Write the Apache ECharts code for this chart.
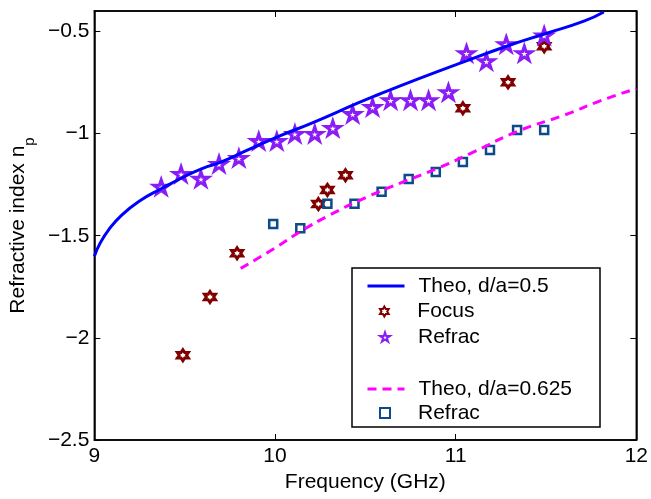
<!DOCTYPE html>
<html>
<head>
<meta charset="utf-8">
<title>Refractive index</title>
<script src="https://cdn.jsdelivr.net/npm/echarts@6/dist/echarts.min.js"></script>
<style>
  html, body { margin: 0; padding: 0; background: #fff; }
  #chart { width: 651px; height: 499px; }
</style>
</head>
<body>
<div id="chart"></div>
<script>
// theory curve, d/a = 0.5
const theo05Freq = [9.0, 9.03, 9.08, 9.15, 9.25, 9.37, 9.5, 9.6, 9.7, 9.85, 10.03, 10.2, 10.46, 10.57, 10.8, 11.01, 11.29, 11.5, 11.71, 11.82]
const theo05Index = [-1.60, -1.54, -1.47, -1.40, -1.33, -1.27, -1.21, -1.17, -1.14, -1.08, -1.01, -0.95, -0.85, -0.81, -0.73, -0.66, -0.57, -0.51, -0.45, -0.405]

// focus measurements
const focusFreq = [9.49, 9.64, 9.79, 10.24, 10.29, 10.39, 11.04, 11.29, 11.49]
const focusIndex = [-2.085, -1.80, -1.586, -1.345, -1.276, -1.204, -0.876, -0.749, -0.573]

// refraction measurements, d/a = 0.5
const refracFreq = [9.37, 9.48, 9.59, 9.69, 9.80, 9.91, 10.01, 10.11, 10.22, 10.32, 10.43, 10.54, 10.64, 10.75, 10.85, 10.96, 11.06, 11.17, 11.28, 11.38, 11.49]
const refracIndex = [-1.261, -1.198, -1.222, -1.149, -1.120, -1.037, -1.037, -1.002, -1.002, -0.973, -0.905, -0.871, -0.837, -0.837, -0.837, -0.798, -0.607, -0.646, -0.563, -0.607, -0.52]

// theory curve, d/a = 0.625
const theo0625Freq = [9.81, 10.0, 10.14, 10.3, 10.51, 10.7, 10.9, 11.1, 11.34, 11.6, 11.8, 12.0]
const theo0625Index = [-1.66, -1.56, -1.48, -1.40, -1.31, -1.24, -1.17, -1.09, -0.99, -0.91, -0.84, -0.78]

// refraction measurements, d/a = 0.625
const refrac2Freq = [9.99, 10.14, 10.29, 10.44, 10.59, 10.74, 10.89, 11.04, 11.19, 11.34, 11.49]
const refrac2Index = [-1.443, -1.464, -1.344, -1.344, -1.285, -1.222, -1.188, -1.139, -1.080, -0.983, -0.983]

const xTicks = [9, 10, 11, 12]
const yTicks = [-2.5, -2, -1.5, -1, -0.5]

const pairs = (xs, ys) => xs.map((x, i) => [x, ys[i]])

const FONT = '"Liberation Sans", Arial, Helvetica, sans-serif'
const PENTAGRAM = 'path://M50 0 L61.23 34.55 L97.55 34.55 L68.16 55.9 L79.39 90.45 L50 69.1 L20.61 90.45 L31.84 55.9 L2.45 34.55 L38.77 34.55 Z'
const HEXAGRAM = 'path://M50 0 L64.43 25 L93.3 25 L78.87 50 L93.3 75 L64.43 75 L50 100 L35.57 75 L6.7 75 L21.13 50 L6.7 25 L35.57 25 Z'

const fmtMinus = v => String(v).replace('-', '\u2212')

const chart = echarts.init(document.getElementById('chart'))

const axisCommon = {
  axisLine: { show: true, lineStyle: { color: '#000', width: 1.5 } },
  axisTick: { show: true, inside: true, length: 6, lineStyle: { color: '#000', width: 1 } },
  splitLine: { show: false }
}

// one legend per row, so line rows and marker rows can have their own icon width
function legendRow(name, top, isLine) {
  const row = {
    orient: 'vertical',
    left: isLine ? 361 : 374,
    top: top,
    itemWidth: isLine ? 37 : 10,
    itemHeight: 10,
    selectedMode: false,
    textStyle: {
      fontFamily: FONT,
      fontSize: 21,
      lineHeight: 21,
      color: '#000',
      padding: [0, 0, 0, isLine ? 9 : 23]
    },
    data: [name]
  }
  if (isLine) {
    row.itemStyle = { opacity: 0 }
    row.lineStyle = { width: 3 }
  }
  return row
}

chart.setOption({
  backgroundColor: '#fff',
  animation: false,
  textStyle: { fontFamily: FONT },
  grid: {
    left: 93,
    right: 11,
    top: 11,
    bottom: 59,
    show: true,
    borderColor: '#000',
    borderWidth: 1.5
  },
  xAxis: [{
    type: 'value',
    min: xTicks[0],
    max: xTicks[xTicks.length - 1],
    interval: 1,
    position: 'bottom',
    name: 'Frequency (GHz)',
    nameLocation: 'middle',
    nameGap: 32,
    nameTextStyle: { fontFamily: FONT, fontSize: 21, color: '#000' },
    axisLabel: { fontFamily: FONT, fontSize: 21, color: '#000', margin: 6 },
    ...axisCommon
  }, {
    type: 'value',
    min: xTicks[0],
    max: xTicks[xTicks.length - 1],
    interval: 1,
    position: 'top',
    axisLabel: { show: false },
    ...axisCommon
  }],
  yAxis: [{
    type: 'value',
    min: yTicks[0],
    max: -0.4,
    interval: 0.5,
    position: 'left',
    name: 'Refractive index n{sub|p}',
    nameLocation: 'middle',
    nameRotate: 90,
    nameGap: 58,
    nameTextStyle: {
      fontFamily: FONT,
      fontSize: 21,
      color: '#000',
      rich: {
        sub: { fontFamily: FONT, fontSize: 15, color: '#000', verticalAlign: 'bottom', padding: [0, 0, -8, 0] }
      }
    },
    axisLabel: {
      fontFamily: FONT,
      fontSize: 21,
      color: '#000',
      margin: 5,
      showMaxLabel: false,
      formatter: fmtMinus
    },
    ...axisCommon
  }, {
    type: 'value',
    min: yTicks[0],
    max: -0.4,
    interval: 0.5,
    position: 'right',
    axisLabel: { show: false },
    ...axisCommon
  }],
  graphic: [{
    type: 'rect',
    z: 3,
    shape: { x: 352, y: 268, width: 248, height: 159 },
    style: { fill: '#fff', stroke: '#000', lineWidth: 1.5 }
  }],
  legend: [
    legendRow('Theo, d/a=0.5', 270.5, true),
    legendRow('Focus', 296, false),
    legendRow('Refrac', 321.5, false),
    legendRow('Theo, d/a=0.625', 373.5, true),
    legendRow('Refrac ', 397.5, false)
  ],
  series: [{
    name: 'Theo, d/a=0.5',
    type: 'line',
    smooth: true,
    symbol: 'none',
    lineStyle: { color: '#0000ff', width: 3 },
    itemStyle: { color: '#0000ff' },
    data: pairs(theo05Freq, theo05Index)
  }, {
    name: 'Theo, d/a=0.625',
    type: 'line',
    smooth: true,
    symbol: 'none',
    lineStyle: { color: '#ff00ff', width: 3, type: [9, 6] },
    itemStyle: { color: '#ff00ff' },
    data: pairs(theo0625Freq, theo0625Index)
  }, {
    name: 'Focus',
    type: 'scatter',
    symbol: HEXAGRAM,
    symbolSize: 11,
    itemStyle: { color: 'rgba(255,255,255,0)', borderColor: '#800000', borderWidth: 3, opacity: 1 },
    data: pairs(focusFreq, focusIndex)
  }, {
    name: 'Refrac',
    type: 'scatter',
    symbol: PENTAGRAM,
    symbolSize: [15, 14],
    itemStyle: { color: 'rgba(255,255,255,0)', borderColor: '#8a1cf5', borderWidth: 3, opacity: 1 },
    data: pairs(refracFreq, refracIndex)
  }, {
    name: 'Refrac ',
    type: 'scatter',
    symbol: 'rect',
    symbolSize: 8,
    itemStyle: { color: 'rgba(255,255,255,0)', borderColor: '#0d4a8a', borderWidth: 2.5, opacity: 1 },
    data: pairs(refrac2Freq, refrac2Index)
  }]
})
</script>
</body>
</html>
